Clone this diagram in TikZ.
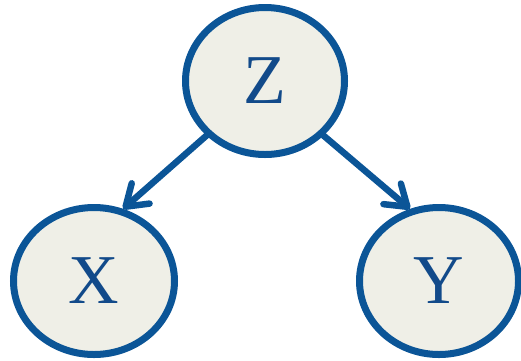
\documentclass[tikz,border=0pt]{standalone}
\usepackage{fontspec}
\setmainfont{Liberation Serif}
\usetikzlibrary{shapes.geometric,arrows.meta,shadows}
\definecolor{nodeblue}{HTML}{0B5597}
\definecolor{textblue}{HTML}{124A8A}
\definecolor{nodefill}{HTML}{EFEFE7}
\tikzset{
  var/.style={ellipse, draw=nodeblue, line width=7pt, fill=nodefill,
    minimum width=159pt, minimum height=147pt, inner sep=0pt,
    text=textblue, font=\fontsize{70}{70}\selectfont,
    drop shadow={shadow xshift=1.5pt, shadow yshift=-3pt, opacity=0.3}},
  edge/.style={draw=nodeblue, line width=6.5pt, line cap=round,
    -{Straight Barb[length=20pt,width=27pt,line cap=round,round]}}
}
\begin{document}
\begin{tikzpicture}[x=1pt,y=-1pt]
\useasboundingbox (0,0) rectangle (521,360);
\node[var] (Z) at (265,81) {\raisebox{-5pt}{Z}};
\node[var, minimum width=161pt] (X) at (94,281) {\raisebox{-4pt}{X}};
\node[var] (Y) at (439,281) {\raisebox{-4pt}{Y}};
\draw[edge] (Z.223) -- (X.68);
\draw[edge] (Z.317) -- (Y.112);
\end{tikzpicture}
\end{document}
